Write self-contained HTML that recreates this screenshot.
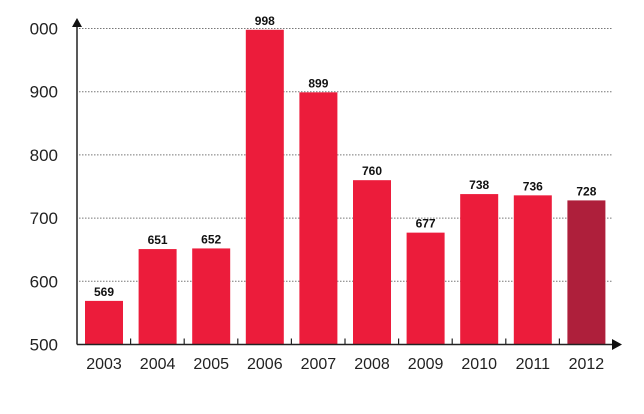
<!DOCTYPE html>
<html><head><meta charset="utf-8"><style>
body{margin:0;background:#fff;}
svg{display:block;font-family:"Liberation Sans",sans-serif;}
</style></head><body>
<svg id="c" width="644" height="414"></svg>
<script>
const years=["2003","2004","2005","2006","2007","2008","2009","2010","2011","2012"];
const values=[569,651,652,998,899,760,677,738,736,728];
const yTicks=[500,600,700,800,900,1000];
const yTickLabels=["500","600","700","800","900","000"];
const NS="http://www.w3.org/2000/svg";
const svg=document.getElementById('c');
const y0=344.5,pxPer=0.632;
function yS(v){return y0-(v-500)*pxPer;}
function xS(i){return 85+i*53.6;}
const bw=38;
function mk(t,a,txt){const e=document.createElementNS(NS,t);for(const k in a)e.setAttribute(k,a[k]);if(txt!=null)e.textContent=txt;svg.appendChild(e);return e;}
yTicks.forEach((v,i)=>{
  if(i>0){const g=mk('line',{x1:79,x2:612,y1:yS(v),y2:yS(v),stroke:'#777','stroke-width':1,'stroke-dasharray':'1.5,1.5'});
  
  }
  const t=mk('text',{x:58,y:yS(v)+6,'text-anchor':'end','font-size':17,fill:'#222'},yTickLabels[i]);
  
  
});
values.forEach((v,i)=>{
  const r=mk('rect',{x:xS(i),y:yS(v),width:bw,height:y0-yS(v),fill:i===9?'#ae1f3b':'#ec1c3b'});
  
  
  const t=mk('text',{x:xS(i)+bw/2,y:yS(v)-5,'text-anchor':'middle','font-size':12,'font-weight':'bold',fill:'#111'},String(v));
  
  
  const yl=mk('text',{x:xS(i)+bw/2,y:369,'text-anchor':'middle','font-size':16,fill:'#222'},years[i]);
  
  
  if(i>0){const tk=mk('line',{x1:xS(i)-8,x2:xS(i)-8,y1:y0-6,y2:y0,stroke:'#222','stroke-width':1.2});
  
  }
});
const ya=mk('line',{x1:77,x2:77,y1:24,y2:y0,stroke:'#222','stroke-width':1.5});


const yar=mk('polygon',{points:'72,27 77,18 82,27',fill:'#111'});


const xa=mk('line',{x1:77,x2:614,y1:y0,y2:y0,stroke:'#222','stroke-width':1.5});


const xar=mk('polygon',{points:'612,339 622,344.5 612,350',fill:'#111'});


</script>
</body></html>
